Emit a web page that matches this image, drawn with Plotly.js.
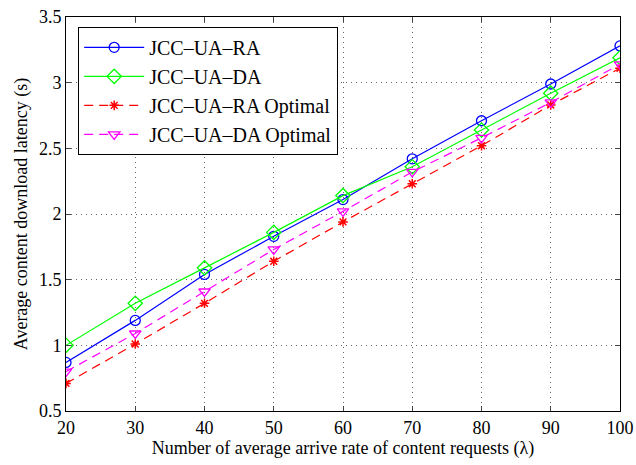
<!DOCTYPE html>
<html><head><meta charset="utf-8">
<script src="https://cdn.plot.ly/plotly-3.0.1.min.js"></script>
<style>body{margin:0;background:#fff}#c{width:636px;height:465px}</style>
</head><body><div id="c"></div>
<script>
const lambda = [20, 30, 40, 50, 60, 70, 80, 90, 100];
const raValues = [0.87, 1.19, 1.54, 1.83, 2.11, 2.42, 2.71, 2.99, 3.28];
const daValues = [1.00, 1.32, 1.59, 1.86, 2.14, 2.36, 2.64, 2.92, 3.19];
const raOptValues = [0.71, 1.01, 1.32, 1.64, 1.94, 2.23, 2.52, 2.83, 3.11];
const daOptValues = [0.80, 1.09, 1.41, 1.73, 2.02, 2.32, 2.58, 2.85, 3.14];
const names = ['JCC\u2013UA\u2013RA', 'JCC\u2013UA\u2013DA', 'JCC\u2013UA\u2013RA Optimal', 'JCC\u2013UA\u2013DA Optimal'];

const traces = [
  {x: lambda, y: raValues, name: names[0], mode: 'lines+markers',
   line: {color: '#0000ff', width: 1.2},
   marker: {symbol: 'circle-open', size: 10, color: '#0000ff', line: {width: 1.3}}},
  {x: lambda, y: daValues, name: names[1], mode: 'lines+markers',
   line: {color: '#00ff00', width: 1.2},
   marker: {symbol: 'diamond-open', size: 11, color: '#00ff00', line: {width: 1.3}}},
  {x: lambda, y: raOptValues, name: names[2], mode: 'lines+markers',
   line: {color: '#ff0000', width: 1.2, dash: '9px,6px'},
   marker: {symbol: 'asterisk-open', size: 8, color: '#ff0000', line: {width: 1.5, color: '#ff0000'}}},
  {x: lambda, y: daOptValues, name: names[3], mode: 'lines+markers',
   line: {color: '#ff00ff', width: 1.2, dash: '9px,6px'},
   marker: {symbol: 'triangle-down-open', size: 10, color: '#ff00ff', line: {width: 1.3}}}
];

const fam = 'Liberation Serif, Times New Roman, serif';
const layout = {
  width: 636, height: 465,
  margin: {l: 66, r: 16, t: 17, b: 54},
  paper_bgcolor: '#fff', plot_bgcolor: '#fff',
  font: {family: fam, size: 18, color: '#000'},
  showlegend: true,
  legend: {x: 0.022, y: 0.975, xanchor: 'left', yanchor: 'top',
    bordercolor: '#000', borderwidth: 1, bgcolor: '#fff', itemwidth: 60,
    font: {family: fam, size: 20, color: '#000'}, tracegroupgap: 0},
  xaxis: {
    range: [20, 100], tickvals: lambda, ticks: 'inside', ticklen: 5,
    showline: true, mirror: 'ticks', linecolor: '#000', linewidth: 1,
    showgrid: true, gridcolor: '#666', griddash: '1px,4px', gridwidth: 1,
    zeroline: false, tickfont: {family: fam, size: 18},
    title: {text: 'Number of average arrive rate of content requests (\u03bb)', font: {family: fam, size: 18}, standoff: 4}
  },
  yaxis: {
    range: [0.5, 3.5], dtick: 0.5, tick0: 0.5, ticks: 'inside', ticklen: 5,
    showline: true, mirror: 'ticks', linecolor: '#000', linewidth: 1,
    showgrid: true, gridcolor: '#666', griddash: '1px,4px', gridwidth: 1,
    zeroline: false, tickfont: {family: fam, size: 18},
    title: {text: 'Average content download latency (s)', font: {family: fam, size: 18}, standoff: 6}
  }
};
Plotly.newPlot('c', traces, layout, {displayModeBar: false, staticPlot: true});
</script></body></html>
